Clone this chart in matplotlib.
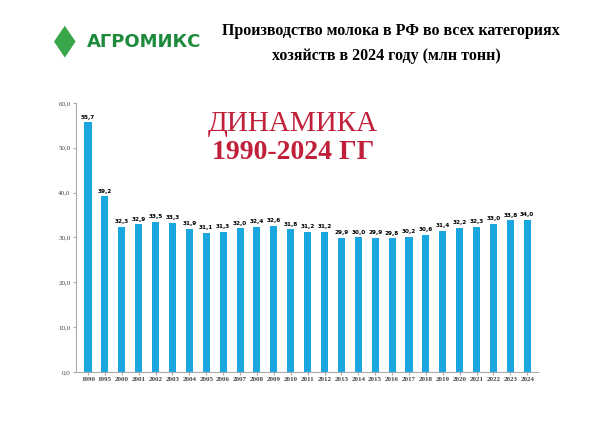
import matplotlib
matplotlib.use("Agg")
import matplotlib.pyplot as plt
from matplotlib.patches import Polygon

years = ['1990','1995','2000','2001','2002','2003','2004','2005','2006','2007','2008','2009','2010','2011','2012','2013','2014','2015','2016','2017','2018','2019','2020','2021','2022','2023','2024']
values = [55.7,39.2,32.3,32.9,33.5,33.3,31.9,31.1,31.3,32.0,32.4,32.6,31.8,31.2,31.2,29.9,30.0,29.9,29.8,30.2,30.6,31.4,32.2,32.3,33.0,33.8,34.0]
yticks = [0,10,20,30,40,50,60]

fig = plt.figure(figsize=(6,4.29), dpi=100)
fig.patch.set_facecolor('white')
ax = fig.add_axes([0.127,0.133,0.77,0.627])
x = list(range(len(years)))
ax.bar(x, values, width=0.42, color='#1aa7e0')
for xi, v in zip(x, values):
    ax.text(xi, v+0.6, f"{v:.1f}".replace('.',','), ha='center', va='bottom', fontsize=4.6, fontweight='bold', family='DejaVu Sans', fontstretch='condensed')
ax.set_xlim(-0.7, len(years)-0.35)
ax.set_ylim(0,60)
ax.set_yticks(yticks)
ax.set_yticklabels([f"{t:.1f}".replace('.',',') for t in yticks], fontsize=5, family='Liberation Serif', color='#444')
ax.set_xticks(x)
ax.set_xticklabels(years, fontsize=5, family='Liberation Serif', fontweight='bold', color='#444')
for s in ['top','right']:
    ax.spines[s].set_visible(False)
ax.spines['left'].set_color('#aaa'); ax.spines['bottom'].set_color('#aaa')
ax.tick_params(length=2, color='#aaa', pad=2)
ax.patch.set_alpha(0)

fig.text(0.488, 0.71, 'ДИНАМИКА', ha='center', va='center', fontsize=21, color='#c0203a', family='Liberation Serif')
fig.text(0.488, 0.645, '1990-2024 ГГ', ha='center', va='center', fontsize=20, color='#c0203a', family='Liberation Serif', fontweight='bold')

fig.text(0.37, 0.927, 'Производство молока в РФ во всех категориях', ha='left', va='center', fontsize=11.5, family='Liberation Serif', fontweight='bold')
fig.text(0.453, 0.87, 'хозяйств в 2024 году (млн тонн)', ha='left', va='center', fontsize=11.5, family='Liberation Serif', fontweight='bold')
fig.text(0.145, 0.903, 'АГРОМИКС', ha='left', va='center', fontsize=13, color='#1e8a3c', family='DejaVu Sans', fontweight='bold')
fig.patches.append(Polygon([[0.09,0.903],[0.108,0.94],[0.126,0.903],[0.108,0.866]], closed=True, transform=fig.transFigure, facecolor='#3aa64a', edgecolor='none'))
fig.savefig('out.png', dpi=100)
